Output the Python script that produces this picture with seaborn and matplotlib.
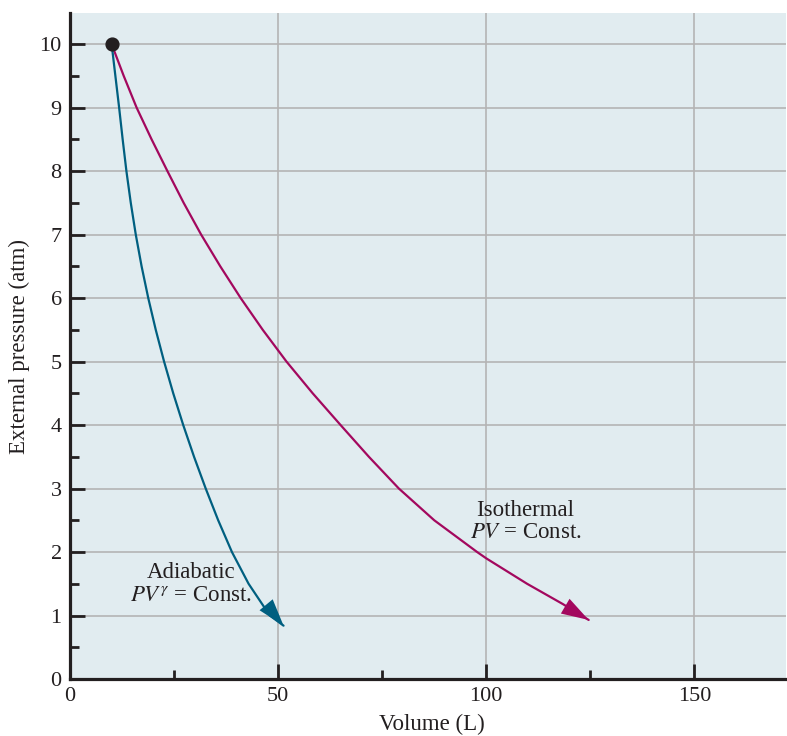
import matplotlib
matplotlib.use("Agg")
import pandas as pd
import seaborn as sns
from matplotlib import pyplot as plt
from matplotlib.ticker import MultipleLocator

# values
iso_volume = [10, 12.9, 16.0, 19.6, 23.4, 27.3, 31.5, 36.1, 41.0, 46.3, 52.0,
              58.3, 65.0, 71.8, 79.0, 87.5, 97.8, 100, 109.8, 118.4, 124.6]
iso_pressure = [10, 9.5, 9, 8.5, 8, 7.5, 7, 6.5, 6, 5.5, 5,
                4.5, 4, 3.5, 3, 2.5, 2, 1.9, 1.5, 1.18, 0.93]
adia_volume = [10, 10.9, 11.8, 12.65, 13.55, 14.6, 15.8, 17.2, 18.8, 20.6, 22.6,
               24.8, 27.2, 29.8, 32.6, 35.6, 38.9, 42.9, 48.0, 51.3]
adia_pressure = [10, 9.5, 9, 8.5, 8, 7.5, 7, 6.5, 6, 5.5, 5,
                 4.5, 4, 3.5, 3, 2.5, 2, 1.5, 1.0, 0.84]
start_point = (10, 10)

COLORS = {"Isothermal": "#a3085e", "Adiabatic": "#005f80"}
INK = "#231f20"

records = []
for v, p in zip(iso_volume, iso_pressure):
    records.append({"Volume": v, "Pressure": p, "Process": "Isothermal"})
for v, p in zip(adia_volume, adia_pressure):
    records.append({"Volume": v, "Pressure": p, "Process": "Adiabatic"})
df = pd.DataFrame(records)

sns.set_style(
    "ticks",
    {"axes.facecolor": "#e1ecf0", "axes.edgecolor": INK, "grid.color": "#b4b4b4"},
)
plt.rcParams["font.family"] = ["Liberation Serif", "DejaVu Serif"]
plt.rcParams["mathtext.fontset"] = "stix"

fig = plt.figure(figsize=(7.87, 7.36), dpi=100)
ax = fig.add_axes([70 / 787, 57 / 736, 716 / 787, 666 / 736])

sns.lineplot(
    data=df,
    x="Volume",
    y="Pressure",
    hue="Process",
    palette=COLORS,
    estimator=None,
    sort=False,
    linewidth=1.6,
    legend=False,
    ax=ax,
    zorder=3,
)

# arrow heads at the end of each path
for name, vols, pres in [
    ("Isothermal", iso_volume, iso_pressure),
    ("Adiabatic", adia_volume, adia_pressure),
]:
    ax.annotate(
        "",
        xy=(vols[-1], pres[-1]),
        xytext=(vols[-3], pres[-3]),
        arrowprops=dict(
            arrowstyle="-|>,head_length=0.7,head_width=0.22",
            mutation_scale=28,
            color=COLORS[name],
            lw=0,
            shrinkA=0,
            shrinkB=0,
        ),
        zorder=4,
    )

ax.scatter([start_point[0]], [start_point[1]], s=85, color=INK, zorder=5)

ax.set_xlim(0, 172)
ax.set_ylim(0, 10.49)
ax.xaxis.set_major_locator(MultipleLocator(50))
ax.xaxis.set_minor_locator(MultipleLocator(25))
ax.yaxis.set_major_locator(MultipleLocator(1))
ax.yaxis.set_minor_locator(MultipleLocator(0.5))
ax.grid(True, which="major", linewidth=1.2)
ax.set_axisbelow(True)

sns.despine(ax=ax)
for side in ["left", "bottom"]:
    ax.spines[side].set_linewidth(2.3)
ax.tick_params(
    which="major", direction="in", length=10.5, width=2, color=INK,
    labelsize=16, labelcolor=INK, pad=6,
)
ax.tick_params(which="minor", direction="in", length=6.5, width=2, color=INK)

ax.text(29.1, 1.68, "Adiabatic", ha="center", va="center", fontsize=16.5, color=INK)
ax.text(29.1, 1.32, r"$PV^{\gamma}$ = Const.", ha="center", va="center",
        fontsize=16.5, color=INK)
ax.text(109.3, 2.66, "Isothermal", ha="center", va="center", fontsize=16.5, color=INK)
ax.text(109.5, 2.30, r"$PV$ = Const.", ha="center", va="center",
        fontsize=16.5, color=INK)

ax.set_xlabel("Volume (L)", fontsize=16.5, color=INK)
ax.set_ylabel("External pressure (atm)", fontsize=16.5, color=INK)
ax.xaxis.set_label_coords(0.505, -0.052)
ax.yaxis.set_label_coords(-0.056, 0.5)

fig.savefig("out.png", dpi=100)
